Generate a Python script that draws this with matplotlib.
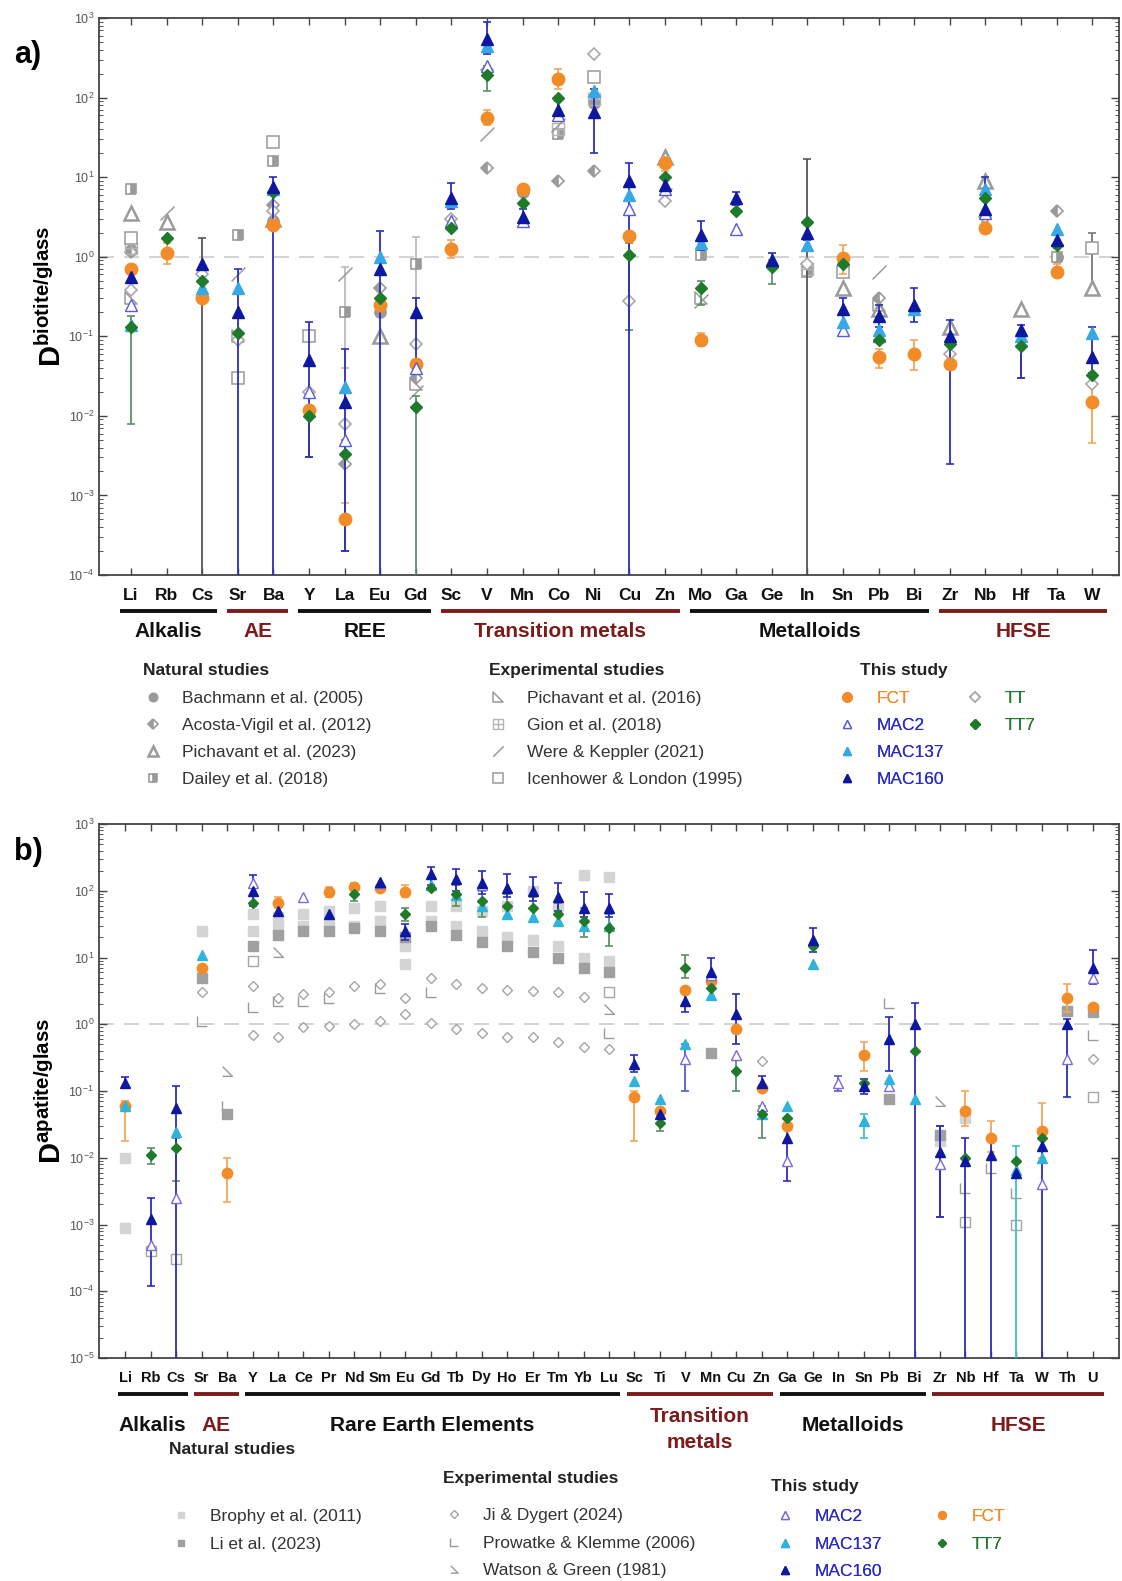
import numpy as np
import matplotlib
matplotlib.use('Agg')
import matplotlib.pyplot as plt
from matplotlib.path import Path
from matplotlib.lines import Line2D
from matplotlib.ticker import LogLocator, NullFormatter
import matplotlib.transforms as mtransforms

plt.rcParams['font.family'] = ['Liberation Sans', 'DejaVu Sans']
plt.rcParams['mathtext.fontset'] = 'custom'
plt.rcParams['mathtext.rm'] = 'Liberation Sans'
plt.rcParams['mathtext.bf'] = 'Liberation Sans:bold'
plt.rcParams['mathtext.it'] = 'Liberation Sans:italic'

n = np.nan
BOT = 1e-8   # error bar running off the bottom of the axis

# ---------------- panel a : biotite / glass ----------------
elements_a = ['Li', 'Rb', 'Cs', 'Sr', 'Ba', 'Y', 'La', 'Eu', 'Gd',
              'Sc', 'V', 'Mn', 'Co', 'Ni', 'Cu', 'Zn',
              'Mo', 'Ga', 'Ge', 'In', 'Sn', 'Pb', 'Bi',
              'Zr', 'Nb', 'Hf', 'Ta', 'W']
groups_a = [('Alkalis', 1, 3), ('AE', 4, 5), ('REE', 6, 9),
            ('Transition metals', 10, 16), ('Metalloids', 17, 23), ('HFSE', 24, 28)]

#             Li    Rb   Cs     Sr    Ba     Y      La      Eu    Gd      Sc    V    Mn   Co   Ni   Cu   Zn     Mo     Ga   Ge    In   Sn    Pb     Bi      Zr     Nb   Hf    Ta    W
fct_a     = [0.7,  1.1, 0.3,   n,    2.5,   0.012, 0.0005, 0.25, 0.045,  1.25, 55,  7,   170, n,   1.8, 15,   0.09,  n,   n,    n,   0.95, 0.055, 0.06,   0.045, 2.3, n,    0.65, 0.015]
fct_a_lo  = [n,    0.8, n,     n,    n,     n,     0.0002, n,    n,      0.95, 45,  6,   130, n,   n,   12,   0.075, n,   n,    n,   0.6,  0.04,  0.038,  n,     2.0, n,    0.55, 0.0045]
fct_a_hi  = [n,    1.5, n,     n,    n,     n,     0.0008, n,    n,      1.6,  70,  8,   230, n,   n,   18,   0.11,  n,   n,    n,   1.4,  0.07,  0.09,   n,     2.7, n,    0.8,  0.035]
mac2_a    = [0.25, n,   n,     n,    n,     0.02,  0.005,  n,    0.04,   2.8,  250, 2.8, 60,  n,   4,   7,    n,     2.2, n,    n,   0.12, 0.1,   n,      n,     3.5, n,    n,    n]
mac137_a  = [0.14, n,   0.4,   0.4,  7,     n,     0.023,  1.0,  n,      5,    450, n,   n,   120, 6,   n,    1.5,   n,   0.9,  1.4, 0.15, 0.12,  0.22,   n,     7,   0.1,  2.2,  0.11]
mac160_a  = [0.55, n,   0.8,   0.2,  7.5,   0.05,  0.015,  0.7,  0.2,    5.5,  550, 3.2, 70,  65,  9,   8,    1.9,   5.5, 0.9,  2.0, 0.22, 0.18,  0.25,   0.1,   4,   0.12, 1.6,  0.055]
mac160_a_lo = [n,  n,   n,     BOT,  BOT,   0.003, 0.0002, BOT,  0.035,  4,    350, 2.5, 55,  20,  BOT, 6.5,  1.2,   4.5, 0.7,  1.6, 0.1,  0.13,  0.15,   0.0025, 3.2, 0.03, 1.3,  0.035]
mac160_a_hi = [n,  n,   n,     0.7,  10,    0.15,  0.07,   2.1,  0.3,    8.5,  900, 4,   90,  130, 15,  10,   2.8,   6.5, 1.1,  2.6, 0.3,  0.25,  0.4,    0.16,  10,  0.14, 1.9,  0.13]
tt_a      = [0.38, n,   0.6,   0.09, 3.8,   0.02,  0.008,  n,    0.08,   3,    220, n,   n,   350, 0.28, 5,   n,     n,   n,    0.8, n,    n,     n,      0.06,  3.2, n,    n,    0.025]
tt_a_lo   = [n,    n,   BOT,   n,    n,     n,     n,      n,    n,      n,    n,   n,   n,   n,   n,   n,    n,     n,   n,    BOT, n,    n,     n,      n,     n,   n,    n,    n]
tt_a_hi   = [n,    n,   1.7,   n,    n,     n,     n,      n,    n,      n,    n,   n,   n,   n,   n,   n,    n,     n,   n,    17,  n,    n,     n,      n,     n,   n,    n,    n]
tt7_a     = [0.13, 1.7, 0.5,   0.11, 6.5,   0.01,  0.0033, 0.3,  0.013,  2.3,  190, 4.8, 100, n,   1.05, 10,  0.4,   3.8, 0.75, 2.7, 0.8,  0.09,  n,      0.08,  5.5, 0.075, 1.4, 0.033]
tt7_a_lo  = [0.008, n,  n,     n,    n,     0.003, 0.0002, n,    BOT,    n,    120, n,   n,   n,   0.12, n,   0.25,  n,   0.45, n,   n,    n,     n,      n,     n,   0.03, n,    n]
tt7_a_hi  = [0.18, n,   n,     n,    n,     0.013, 0.005,  n,    0.018,  n,    250, n,   n,   n,   1.5, n,    0.5,   n,   0.9,  n,   n,    n,     n,      n,     n,   0.09, n,    n]
# literature
bach_a    = [1.2,  n,   n,     n,    2.8,   n,     n,      0.2,  n,      n,    n,   6.5, n,   85,  n,   n,    n,     n,   n,    n,   n,    n,     n,      n,     n,   n,    1.0,  n]
acosta_a  = [1.15, n,   n,     n,    4.5,   n,     0.0025, 0.4,  0.03,   n,    13,  n,   9,   12,  n,   n,    n,     n,   n,    n,   n,    0.3,   n,      n,     n,   n,    3.8,  n]
pich23_a  = [3.5,  2.7, n,     n,    3.0,   n,     n,      0.1,  n,      n,    n,   n,   n,   n,   n,   18,   n,     n,   n,    n,   0.4,  0.22,  n,      0.13,  9,   0.22, n,    0.4]
dailey_a  = [7,    n,   n,     1.9,  16,    n,     0.2,    n,    0.8,    n,    n,   n,   35,  n,   n,   n,    1.05,  n,   n,    0.65, n,   n,     n,      n,     n,   n,    1.0,  n]
dailey_a_lo = [n,  n,   n,     n,    n,     n,     0.04,   n,    0.08,   n,    n,   n,   n,   n,   n,   n,    n,     n,   n,    n,   n,    n,     n,      n,     n,   n,    n,    n]
dailey_a_hi = [10, n,   n,     2.6,  n,     n,     0.75,   n,    1.75,   n,    n,   n,   n,   n,   n,   n,    n,     n,   n,    n,   n,    n,     n,      n,     n,   n,    n,    n]
pich16_a  = [0.3,  n,   n,     0.1,  n,     n,     n,      n,    0.025,  n,    n,   n,   n,   n,   n,   n,    0.3,   n,   n,    n,   n,    0.25,  n,      n,     n,   n,    n,    n]
gion_a    = [1.3,  n,   n,     n,    n,     n,     n,      n,    n,      n,    n,   n,   40,  95,  n,   n,    n,     n,   n,    0.7, n,    n,     n,      n,     n,   n,    n,    n]
were_a    = [n,    3.5, n,     0.6,  n,     n,     0.6,    n,    0.02,   n,    35,  n,   45,  n,   n,   6,    0.28,  n,   n,    n,   n,    0.65,  n,      n,     n,   n,    n,    n]
icen_a    = [1.7,  n,   n,     0.03, 28,    0.1,   n,      n,    n,      n,    n,   n,   n,   180, n,   n,    n,     n,   n,    n,   0.65, n,     n,      n,     n,   n,    n,    1.3]
icen_a_lo = [n,    n,   n,     n,    n,     n,     n,      n,    n,      n,    n,   n,   n,   n,   n,   n,    n,     n,   n,    n,   n,    n,     n,      n,     n,   n,    n,    0.35]
icen_a_hi = [n,    n,   n,     n,    n,     0.15,  n,      n,    n,      n,    n,   n,   n,   n,   n,   n,    n,     n,   n,    n,   n,    n,     n,      n,     n,   n,    n,    2.0]

# ---------------- panel b : apatite / glass ----------------
elements_b = ['Li', 'Rb', 'Cs', 'Sr', 'Ba',
              'Y', 'La', 'Ce', 'Pr', 'Nd', 'Sm', 'Eu', 'Gd', 'Tb', 'Dy', 'Ho', 'Er', 'Tm', 'Yb', 'Lu',
              'Sc', 'Ti', 'V', 'Mn', 'Cu', 'Zn',
              'Ga', 'Ge', 'In', 'Sn', 'Pb', 'Bi',
              'Zr', 'Nb', 'Hf', 'Ta', 'W', 'Th', 'U']
groups_b = [('Alkalis', 1, 3), ('AE', 4, 5), ('Rare Earth Elements', 6, 20),
            ('Transition\nmetals', 21, 26), ('Metalloids', 27, 32), ('HFSE', 33, 39)]

#              Li     Rb      Cs       Sr   Ba       Y    La   Ce   Pr   Nd   Sm   Eu   Gd   Tb   Dy   Ho   Er   Tm   Yb   Lu     Sc    Ti     V    Mn   Cu    Zn      Ga     Ge   In    Sn     Pb    Bi      Zr      Nb      Hf     Ta      W      Th   U
mac2_b     = [n,     0.0005, 0.0025,  n,   n,       130, n,   80,  n,   n,   130, n,   n,   n,   120, n,   n,   n,   n,   n,     n,    n,     0.3, 5.5, 0.35, 0.06,   0.009, n,   0.13, n,     0.12, n,      0.008,  n,      n,     n,      0.004, 0.3, 5]
mac2_b_lo  = [n,     n,      n,       n,   n,       n,   n,   n,   n,   n,   n,   n,   n,   n,   n,   n,   n,   n,   n,   n,     n,    n,     0.1, n,   n,    n,      n,     n,   0.1,  n,     n,    n,      0.0013, n,      n,     n,      n,     n,   n]
mac2_b_hi  = [n,     n,      n,       n,   n,       n,   n,   n,   n,   n,   n,   n,   n,   n,   n,   n,   n,   n,   n,   n,     n,    n,     0.5, n,   n,    n,      n,     n,   0.17, n,     n,    n,      0.03,   n,      n,     n,      n,     n,   n]
mac137_b   = [0.06,  n,      0.024,   11,  n,       n,   n,   n,   n,   n,   n,   n,   120, 85,  60,  45,  40,  35,  30,  30,    0.14, 0.075, 0.5, 2.7, n,    0.045,  0.06,  8,   n,    0.035, 0.15, 0.075,  n,      n,      n,     0.0065, 0.01,  n,   n]
mac137_b_lo = [n,    n,      n,       n,   n,       n,   n,   n,   n,   n,   n,   n,   n,   n,   n,   n,   n,   n,   n,   n,     n,    n,     n,   n,   n,    n,      n,     n,   n,    0.02,  n,    n,      n,      n,      n,     BOT,    n,     n,   n]
mac137_b_hi = [n,    n,      n,       n,   n,       n,   n,   n,   n,   n,   n,   n,   n,   n,   n,   n,   n,   n,   n,   n,     n,    n,     n,   n,   n,    n,      n,     n,   n,    0.045, n,    n,      n,      n,      n,     0.015,  n,     n,   n]
mac160_b   = [0.13,  0.0012, 0.055,   n,   n,       100, 50,  n,   45,  n,   135, 25,  180, 150, 130, 110, 100, 80,  55,  55,    0.25, 0.045, 2.2, 6,   1.4,  0.13,   0.02,  18,  n,    0.12,  0.6,  1.0,    0.012,  0.009,  0.011, 0.006,  0.015, 1.0, 7]
mac160_b_lo = [0.11, 1.2e-4, BOT,     n,   n,       60,  n,   n,   n,   n,   n,   18,  120, 100, 90,  80,  70,  50,  40,  40,    0.19, n,     1.5, 4,   0.5,  0.1,    0.0045, 12, n,    0.09,  0.2,  BOT,    0.0013, BOT,    BOT,   n,      BOT,   0.08, 4]
mac160_b_hi = [0.16, 0.0025, 0.12,    n,   n,       170, n,   n,   n,   n,   150, 32,  230, 210, 200, 180, 160, 130, 95,  90,    0.35, n,     3,   10,  2.8,  0.17,   0.03,  28,  n,    0.15,  1.3,  2.1,    0.03,   0.02,   0.018, n,      0.025, 1.2, 13]
fct_b      = [0.06,  n,      n,       7,   0.006,   n,   65,  n,   95,  115, 110, 95,  n,   n,   n,   n,   n,   n,   n,   n,     0.08, 0.05,  3.3, 4.5, 0.85, 0.11,   0.03,  n,   n,    0.35,  n,    n,      n,      0.05,   0.02,  n,      0.025, 2.5, 1.8]
fct_b_lo   = [0.018, n,      n,       n,   0.0022,  n,   55,  n,   80,  90,  n,   80,  n,   n,   n,   n,   n,   n,   n,   n,     0.018, n,    n,   n,   n,    n,      n,     n,   n,    0.2,   n,    n,      n,      0.03,   0.012, n,      0.01,  1.5, n]
fct_b_hi   = [0.07,  n,      n,       n,   0.01,    n,   80,  n,   115, 130, n,   120, n,   n,   n,   n,   n,   n,   n,   n,     0.1,  n,     n,   n,   n,    n,      n,     n,   n,    0.55,  n,    n,      n,      0.1,    0.035, n,      0.065, 4,   n]
tt7_b      = [n,     0.011,  0.014,   n,   n,       65,  n,   n,   n,   90,  n,   45,  110, 90,  70,  60,  55,  45,  35,  28,    n,    0.033, 7,   3.5, 0.2,  0.045,  0.04,  15,  n,    0.13,  n,    0.4,    n,      0.01,   n,     0.009,  0.02,  n,   n]
tt7_b_lo   = [n,     0.008,  0.0045,  n,   n,       n,   n,   n,   n,   70,  n,   35,  n,   60,  40,  40,  35,  30,  20,  15,    n,    0.025, 5,   n,   0.1,  0.02,   n,     n,   n,    n,     n,    n,      n,      n,      n,     n,      n,     n,   n]
tt7_b_hi   = [n,     0.014,  0.02,    n,   n,       n,   n,   n,   n,   110, n,   55,  n,   120, 100, 90,  80,  65,  55,  45,    n,    0.045, 11,  n,   0.3,  0.06,   n,     n,   n,    n,     n,    n,      n,      n,      n,     n,      n,     n,   n]
# literature
brophy_b   = [0.01,  n,      n,       25,  n,       45,  40,  45,  50,  55,  60,  15,  60,  60,  50,  60,  100, 60,  170, 160,   n,    n,     n,   n,   n,    n,      n,     n,   n,    n,     n,    n,      0.018,  0.04,   n,     n,      n,     1.6, n]
brophy2_b  = [0.0009, n,     n,       n,   n,       25,  28,  30,  35,  30,  35,  8,   35,  30,  25,  20,  18,  15,  10,  9,     n,    n,     n,   n,   n,    n,      n,     n,   n,    n,     n,    n,      n,      n,      n,     n,      n,     n,   n]
li_b       = [n,     n,      n,       5,   0.045,   15,  22,  25,  25,  28,  25,  20,  30,  22,  17,  15,  12,  10,  7,   6,     n,    n,     n,   0.37, n,   n,      n,     n,   n,    n,     0.075, n,     0.022,  n,      n,     n,      n,     1.6, 1.5]
ji1_b      = [n,     n,      n,       3,   n,       3.8, 2.5, 2.8, 3,   3.8, 4,   2.5, 5,   4,   3.5, 3.3, 3.2, 3,   2.6, n,     n,    n,     n,   n,   n,    0.28,   n,     n,   n,    n,     n,    n,      n,      n,      n,     n,      n,     n,   0.3]
ji2_b      = [n,     n,      n,       n,   n,       0.7, 0.65, 0.9, 0.95, 1.0, 1.1, 1.4, 1.05, 0.85, 0.75, 0.65, 0.65, 0.55, 0.45, 0.42,  n, n,  n,   n,   n,    n,      n,     n,   n,    n,     n,    n,      n,      n,      n,     n,      n,     n,   n]
prow_b     = [n,     n,      n,       1.1, 0.06,    1.8, 2.2, 2.2, 2.5, n,   3.5, n,   3,   n,   n,   n,   n,   n,   n,   0.75,  n,    n,     n,   n,   n,    n,      n,     n,   n,    n,     2.1,  n,      n,      0.0035, 0.007, 0.003,  n,     n,   0.7]
prow2_b    = [n,     0.0004, 0.0003,  n,   n,       9,   n,   n,   n,   n,   n,   n,   n,   n,   n,   n,   n,   n,   n,   3,     n,    n,     n,   n,   n,    n,      n,     n,   n,    n,     n,    n,      n,      0.0011, n,     0.001,  n,     n,   0.08]
watson_b   = [n,     n,      n,       n,   0.2,     n,   12,  n,   n,   n,   n,   n,   n,   n,   n,   n,   n,   n,   n,   1.7,   n,    n,     n,   n,   n,    n,      n,     n,   n,    n,     n,    n,      0.07,   n,      n,     n,      n,     n,   n]

for arr in [fct_a, fct_a_lo, fct_a_hi, mac2_a, mac137_a, mac160_a, mac160_a_lo, mac160_a_hi, tt_a, tt_a_lo,
            tt_a_hi, tt7_a, tt7_a_lo, tt7_a_hi, bach_a, acosta_a, pich23_a, dailey_a, dailey_a_lo, dailey_a_hi,
            pich16_a, gion_a, were_a, icen_a, icen_a_lo, icen_a_hi]:
    assert len(arr) == len(elements_a), len(arr)
for arr in [mac2_b, mac2_b_lo, mac2_b_hi, mac137_b, mac137_b_lo, mac137_b_hi, mac160_b, mac160_b_lo, mac160_b_hi,
            fct_b, fct_b_lo, fct_b_hi, tt7_b, tt7_b_lo, tt7_b_hi, brophy_b, brophy2_b, li_b, ji1_b, ji2_b,
            prow_b, prow2_b, watson_b]:
    assert len(arr) == len(elements_b), len(arr)

# ---------------- styling ----------------
ORANGE = '#f28c28'
BLUE_T = '#2a2ac8'
GREEN = '#1f7a2a'
GREY = '#9a9a9a'
DARKRED = '#7d1b1b'

m_corner = Path([(-1, 1), (-1, -1), (1, -1)], [Path.MOVETO, Path.LINETO, Path.LINETO])
m_rtri = Path([(-1, 1), (-1, -1), (1, -1), (-1, 1)],
              [Path.MOVETO, Path.LINETO, Path.LINETO, Path.CLOSEPOLY])
m_watson = Path([(-1, 1), (1, -1), (-1, -1)], [Path.MOVETO, Path.LINETO, Path.LINETO])
m_slash = Path([(-1, -1), (1, 1)], [Path.MOVETO, Path.LINETO])
m_boxplus = Path([(-1, -1), (1, -1), (1, 1), (-1, 1), (-1, -1), (0, -1), (0, 1), (-1, 0), (1, 0)],
                 [Path.MOVETO, Path.LINETO, Path.LINETO, Path.LINETO, Path.LINETO,
                  Path.MOVETO, Path.LINETO, Path.MOVETO, Path.LINETO])


def series(ax, x, vals, lo=None, hi=None, label=None, ecolor=None, z=3, **style):
    v = np.asarray(vals, float)
    if lo is not None:
        lo = np.asarray(lo, float)
        hi = np.asarray(hi, float)
        ok = ~np.isnan(lo) & ~np.isnan(v)
        ax.errorbar(x[ok], v[ok], yerr=[v[ok] - lo[ok], hi[ok] - v[ok]], fmt='none',
                    ecolor=ecolor, elinewidth=1.3, capsize=3, capthick=1.2, zorder=z - 0.5)
    h, = ax.plot(x, v, ls='none', label=label, zorder=z, **style)
    return h


def style_axis(ax, x, labels, xlim, ylim, fs_lab, pad):
    ax.set_yscale('log')
    ax.set_xlim(*xlim)
    ax.set_ylim(*ylim)
    ax.set_xticks(x)
    ax.set_xticklabels(labels, fontsize=fs_lab, fontweight='bold', color='#111')
    ax.yaxis.set_major_locator(LogLocator(base=10, numticks=20))
    ax.yaxis.set_minor_locator(LogLocator(base=10, subs=np.arange(2, 10), numticks=20))
    ax.yaxis.set_minor_formatter(NullFormatter())
    ax.tick_params(axis='x', direction='in', top=True, length=5, width=1, color='#444', pad=pad)
    ax.tick_params(axis='y', which='major', direction='in', right=True, length=6, width=1,
                   color='#444', labelsize=9, labelcolor='#555')
    ax.tick_params(axis='y', which='minor', direction='in', right=True, length=3, width=0.7, color='#555')
    for s in ax.spines.values():
        s.set_color('#444')
        s.set_linewidth(1.3)
    ax.axhline(1, color='#cccccc', ls=(0, (9, 6)), lw=1.2, zorder=1)


def group_bars(ax, groups, y_line, y_text, fs, pad_r):
    tr = mtransforms.blended_transform_factory(ax.transData, ax.transAxes)
    for i, (name, s, e) in enumerate(groups):
        col = '#111111' if i % 2 == 0 else DARKRED
        ax.plot([s - 0.3, e + pad_r], [y_line, y_line], color=col, lw=2.8, transform=tr, clip_on=False,
                solid_capstyle='butt')
        yt = y_text - 0.008 if '\n' in name else y_text
        ax.text((s - 0.3 + e + pad_r) / 2, yt, name, transform=tr, ha='center', va='center',
                fontsize=fs, fontweight='bold', color=col, linespacing=1.45)


def legend_block(ax, handles, labels, colors, anchor, ncol=1, fs=12.5, colsp=2.0, lsp=0.68):
    lg = ax.legend(handles, labels, loc='upper left', bbox_to_anchor=anchor, ncol=ncol, frameon=False,
                   fontsize=fs, labelcolor=colors, handlelength=1.0, handletextpad=1.2,
                   labelspacing=lsp, borderpad=0, borderaxespad=0, columnspacing=colsp,
                   markerscale=0.75)
    ax.add_artist(lg)


fig = plt.figure(figsize=(11.22, 15.81), dpi=100)
axA = fig.add_axes([99 / 1122, 1 - 575 / 1581, 1020 / 1122, 557 / 1581])
axB = fig.add_axes([99 / 1122, 1 - 1358 / 1581, 1020 / 1122, 534 / 1581])

# ---------------- draw panel a ----------------
xa = np.arange(1, len(elements_a) + 1)
h_bach = series(axA, xa, bach_a, label='Bachmann et al. (2005)', z=2, marker='o', color=GREY, ms=8, mew=1.2)
h_acos = series(axA, xa, acosta_a, label='Acosta-Vigil et al. (2012)', z=2, marker='D', fillstyle='left',
                color=GREY, mfc=GREY, mfcalt='white', ms=6.5, mew=1.2)
h_p23 = series(axA, xa, pich23_a, label='Pichavant et al. (2023)', z=2, marker='^', mfc='white', mec=GREY,
               ms=10, mew=1.8)
h_dail = series(axA, xa, dailey_a, dailey_a_lo, dailey_a_hi, label='Dailey et al. (2018)', ecolor='#bbbbbb',
                z=2, marker='s', fillstyle='right', color=GREY, mfc=GREY, mfcalt='white', ms=7.5, mew=1.2)
h_p16 = series(axA, xa, pich16_a, label='Pichavant et al. (2016)', z=2, marker=m_rtri, mfc='none',
               mec=GREY, ms=9, mew=1.1)
h_gion = series(axA, xa, gion_a, label='Gion et al. (2018)', z=2, marker=m_boxplus, mfc='none',
                mec='#b5b5b5', ms=9, mew=1.0)
h_were = series(axA, xa, were_a, label='Were & Keppler (2021)', z=2, marker=m_slash, mfc='none',
                mec=GREY, ms=10, mew=1.1)
h_icen = series(axA, xa, icen_a, icen_a_lo, icen_a_hi, label='Icenhower & London (1995)', ecolor='#777777',
                z=2, marker='s', mfc='white', mec=GREY, ms=9, mew=1.1)

h_tt = series(axA, xa, tt_a, tt_a_lo, tt_a_hi, label='TT', ecolor='#555555', z=3.2, marker='D',
              mfc='white', mec='#a8a8a8', ms=6.5, mew=1.2)
h_tt7 = series(axA, xa, tt7_a, tt7_a_lo, tt7_a_hi, label='TT7', ecolor='#5d8f6a', z=3.6, marker='D',
               color=GREEN, ms=6.5, mew=1)
h_fct = series(axA, xa, fct_a, fct_a_lo, fct_a_hi, label='FCT', ecolor='#f5a55a', z=3.3, marker='o',
               color=ORANGE, ms=9, mew=1)
h_m2 = series(axA, xa, mac2_a, label='MAC2', z=3.4, marker='^', mfc='white', mec='#5a5ad8', ms=8, mew=1)
h_m137 = series(axA, xa, mac137_a, label='MAC137', z=3.5, marker='^', color='#37a8e6', ms=8, mew=1)
h_m160 = series(axA, xa, mac160_a, mac160_a_lo, mac160_a_hi, label='MAC160', ecolor='#2c2cbd', z=3.7,
                marker='^', color='#0d17a0', ms=8, mew=1)

style_axis(axA, xa, elements_a, (0.1, 28.75), (1e-4, 1e3), 12.5, 9)
axA.set_ylabel(r'$\mathbf{D}^{\mathbf{biotite/glass}}$', fontsize=21, labelpad=1)
group_bars(axA, groups_a, -0.0646, -0.102, 15, 0.42)

fa = 557.0
ya = (575 - 691) / fa
legend_block(axA, [h_bach, h_acos, h_p23, h_dail],
             ['Bachmann et al. (2005)', 'Acosta-Vigil et al. (2012)', 'Pichavant et al. (2023)',
              'Dailey et al. (2018)'], ['#333'] * 4, ((144 - 99) / 1020, ya))
legend_block(axA, [h_p16, h_gion, h_were, h_icen],
             ['Pichavant et al. (2016)', 'Gion et al. (2018)', 'Were & Keppler (2021)',
              'Icenhower & London (1995)'], ['#333'] * 4, ((489 - 99) / 1020, ya))
blank = Line2D([], [], ls='none')
legend_block(axA, [h_fct, h_m2, h_m137, h_m160, h_tt, h_tt7, blank, blank],
             ['FCT', 'MAC2', 'MAC137', 'MAC160', 'TT', 'TT7', '', ''],
             [ORANGE, BLUE_T, BLUE_T, BLUE_T, GREEN, GREEN, 'k', 'k'],
             ((838 - 99) / 1020, ya), ncol=2, colsp=1.3)
for xt, t in [(143, 'Natural studies'), (489, 'Experimental studies'), (860, 'This study')]:
    axA.text((xt - 99) / 1020, (575 - 670) / fa, t, transform=axA.transAxes, fontsize=12.5,
             fontweight='bold', color='#222', va='center', ha='left')

# ---------------- draw panel b ----------------
xb = np.arange(1, len(elements_b) + 1)
ms_b = 6.5
h_bro = series(axB, xb, brophy_b, label='Brophy et al. (2011)', z=2, marker='s', color='#d4d4d4', ms=ms_b)
series(axB, xb, brophy2_b, z=2, marker='s', color='#d4d4d4', ms=ms_b)
h_li = series(axB, xb, li_b, label='Li et al. (2023)', z=2.1, marker='s', color='#a0a0a0', ms=ms_b)
h_ji = series(axB, xb, ji1_b, label='Ji & Dygert (2024)', z=2, marker='D', mfc='white', mec='#a5a5a5',
              ms=5.5, mew=1)
series(axB, xb, ji2_b, z=2, marker='D', mfc='white', mec='#a5a5a5', ms=5.5, mew=1)
h_prow = series(axB, xb, prow_b, label='Prowatke & Klemme (2006)', z=2, marker=m_corner, mfc='none',
                mec='#9a9a9a', ms=7, mew=1)
series(axB, xb, prow2_b, z=2, marker='s', mfc='white', mec='#a5a5a5', ms=7, mew=1)
h_wat = series(axB, xb, watson_b, label='Watson & Green (1981)', z=2, marker=m_watson, mfc='none',
               mec='#9a9a9a', ms=7, mew=1)

h_fctb = series(axB, xb, fct_b, fct_b_lo, fct_b_hi, label='FCT', ecolor='#f5a55a', z=3.3, marker='o',
                color=ORANGE, ms=7.5, mew=1)
h_tt7b = series(axB, xb, tt7_b, tt7_b_lo, tt7_b_hi, label='TT7', ecolor='#5d8f6a', z=3.6, marker='D',
                color=GREEN, ms=5.5, mew=1)
h_m2b = series(axB, xb, mac2_b, mac2_b_lo, mac2_b_hi, label='MAC2', ecolor='#5a5ad0', z=3.4, marker='^',
               mfc='white', mec='#7a6ae0', ms=7, mew=1)
h_m137b = series(axB, xb, mac137_b, mac137_b_lo, mac137_b_hi, label='MAC137', ecolor='#3fbfd0', z=3.5,
                 marker='^', color='#2eb4dc', ms=7, mew=1)
h_m160b = series(axB, xb, mac160_b, mac160_b_lo, mac160_b_hi, label='MAC160', ecolor='#2c2cbd', z=3.7,
                 marker='^', color='#0d17a0', ms=7, mew=1)

style_axis(axB, xb, elements_b, (-0.03, 40.03), (1e-5, 1e3), 10.5, 9)
axB.set_ylabel(r'$\mathbf{D}^{\mathbf{apatite/glass}}$', fontsize=21, labelpad=1)
group_bars(axB, groups_b, -0.0676, -0.1256, 15, 0.45)

fb = 534.0
legend_block(axB, [h_bro, h_li], ['Brophy et al. (2011)', 'Li et al. (2023)'], ['#333'] * 2,
             ((172 - 99) / 1020, (1358 - 1509) / fb), lsp=0.72)
legend_block(axB, [h_ji, h_prow, h_wat],
             ['Ji & Dygert (2024)', 'Prowatke & Klemme (2006)', 'Watson & Green (1981)'], ['#333'] * 3,
             ((445 - 99) / 1020, (1358 - 1508) / fb), lsp=0.72)
legend_block(axB, [h_m2b, h_m137b, h_m160b, h_fctb, h_tt7b, blank],
             ['MAC2', 'MAC137', 'MAC160', 'FCT', 'TT7', ''],
             [BLUE_T, BLUE_T, BLUE_T, ORANGE, GREEN, 'k'],
             ((776 - 99) / 1020, (1358 - 1509) / fb), ncol=2, colsp=3.0, lsp=0.72)
for xt, yt, t in [(169, 1450, 'Natural studies'), (443, 1478, 'Experimental studies'), (771, 1486, 'This study')]:
    axB.text((xt - 99) / 1020, (1358 - yt) / fb, t, transform=axB.transAxes, fontsize=12.5,
             fontweight='bold', color='#222', va='center', ha='left')

fig.text(14 / 1122, 1 - 55 / 1581, 'a)', fontsize=22, fontweight='bold', va='center')
fig.text(14 / 1122, 1 - 852 / 1581, 'b)', fontsize=22, fontweight='bold', va='center')

fig.savefig('out.png', dpi=100)
